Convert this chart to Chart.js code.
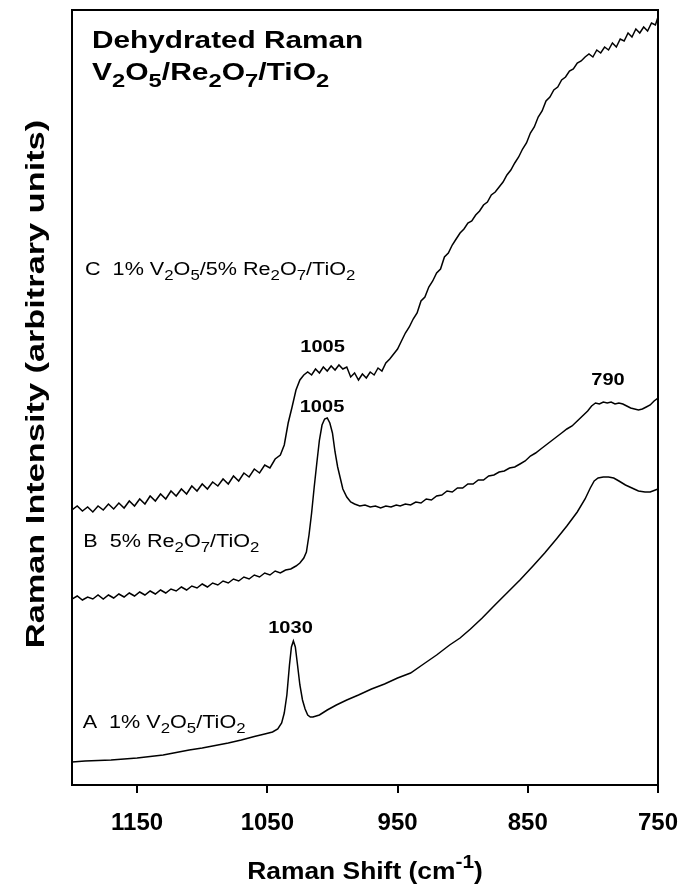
<!DOCTYPE html>
<html>
<head>
<meta charset="utf-8">
<script src="https://cdn.jsdelivr.net/npm/chart.js@4.4.0/dist/chart.umd.min.js"></script>
<style>
  html, body { margin: 0; padding: 0; background: #fff; }
  #wrap { width: 678px; height: 884px; }
</style>
</head>
<body>
<div id="wrap"><canvas id="ramanChart" width="678" height="884"></canvas></div>
<script>
// ----------------------------------------
// Spectra (arbitrary intensity units)
// ----------------------------------------

// A  1% V2O5/TiO2
const shiftA = [1200, 1190, 1180, 1170, 1160, 1150, 1140, 1130, 1120, 1110, 1100, 1090, 1080, 1070, 1060, 1052, 1046, 1042, 1039, 1037, 1035, 1033, 1031.5, 1030, 1028.5, 1027, 1025, 1023, 1021, 1019, 1017, 1015, 1010, 1004, 997, 989, 980, 970, 960, 950, 940, 930, 920, 910, 902, 894, 885, 876, 866, 856, 846, 837, 828, 820, 812, 806, 802, 799, 796, 792, 788, 784, 780, 775, 770, 765, 760, 756, 752, 750];
const intensityA = [23, 24, 24.5, 25, 26, 27, 28.5, 30, 32.5, 35, 37, 39.5, 42, 45, 48.5, 51, 53, 56, 62, 72, 90, 120, 138, 144, 138, 122, 100, 85, 76, 70, 68, 68, 70, 75, 80, 85, 90, 96, 101, 107, 112, 121, 130, 140, 147, 156, 167, 179, 192, 205, 219, 232, 246, 259, 273, 286, 297, 304, 307, 308, 308, 307, 304, 300, 297, 294, 293, 293, 295, 296];

// B  5% Re2O7/TiO2
const shiftB = [1200, 1196, 1192, 1188, 1184, 1180, 1176, 1172, 1168, 1164, 1160, 1156, 1152, 1148, 1144, 1140, 1136, 1132, 1128, 1124, 1120, 1116, 1112, 1108, 1104, 1100, 1096, 1092, 1088, 1084, 1080, 1076, 1072, 1068, 1064, 1060, 1056, 1052, 1048, 1044, 1040, 1036, 1032, 1028, 1025, 1022, 1020, 1018, 1016, 1014, 1012, 1010, 1008, 1006, 1004, 1002, 1000, 998, 996, 994, 992, 989, 986, 983, 979, 975, 971, 967, 963, 959, 955, 951, 948, 944, 940, 936, 932, 928, 924, 920, 916, 912, 908, 904, 900, 896, 892, 888, 884, 880, 876, 872, 868, 864, 860, 856, 852, 848, 844, 840, 836, 832, 828, 824, 820, 816, 812, 808, 804, 801, 798, 795, 792, 789, 786, 783, 780, 777, 774, 771, 768, 765, 762, 759, 756, 753, 750];
const intensityB = [186, 189, 185, 188, 186, 190, 186, 190, 187, 191, 188, 192, 189, 193, 190, 194, 191, 195, 192, 196, 194, 198, 195, 199, 197, 201, 198, 202, 200, 204, 202, 206, 204, 208, 206, 210, 208, 212, 210, 214, 212, 215, 216, 219, 222, 227, 233, 250, 272, 298, 322, 345, 360, 366, 367, 362, 352, 333, 318, 307, 296, 288, 283, 281, 279, 280, 278, 279, 277, 279, 278, 280, 279, 281, 280, 283, 282, 286, 285, 289, 290, 294, 293, 297, 297, 301, 301, 305, 305, 309, 310, 313, 314, 317, 318, 321, 324, 329, 332, 336, 340, 344, 348, 352, 356, 359, 364, 369, 374, 379, 382, 381, 383, 382, 383, 381, 382, 381, 379, 377, 376, 375, 376, 378, 380, 384, 387];

// C  1% V2O5/5% Re2O7/TiO2
const shiftC = [1200, 1196, 1192, 1188, 1184, 1180, 1176, 1172, 1168, 1164, 1160, 1156, 1152, 1148, 1144, 1140, 1136, 1132, 1128, 1124, 1120, 1116, 1112, 1108, 1104, 1100, 1096, 1092, 1088, 1084, 1080, 1076, 1072, 1068, 1064, 1060, 1056, 1052, 1048, 1044, 1040, 1037, 1034, 1031, 1028, 1025, 1022, 1019, 1016, 1013, 1010, 1007, 1004, 1001, 998, 995, 992, 989, 986, 983, 980, 977, 974, 971, 968, 965, 962, 959, 956, 953, 950, 947, 944, 941, 938, 935, 932, 929, 926, 923, 920, 917, 914, 911, 908, 905, 902, 899, 896, 893, 890, 887, 884, 881, 878, 875, 872, 869, 866, 863, 860, 857, 854, 851, 848, 845, 842, 839, 836, 833, 830, 827, 824, 821, 818, 815, 812, 809, 806, 803, 800, 797, 794, 791, 788, 785, 782, 779, 776, 773, 770, 767, 764, 761, 758, 755, 752, 750];
const intensityC = [275, 279, 274, 278, 273, 279, 275, 281, 276, 282, 277, 284, 279, 286, 281, 289, 284, 291, 286, 294, 289, 296, 291, 299, 294, 301, 296, 303, 299, 306, 301, 309, 304, 312, 308, 316, 312, 320, 317, 326, 330, 340, 362, 378, 395, 405, 410, 413, 410, 416, 412, 418, 414, 419, 415, 420, 416, 418, 408, 412, 405, 411, 407, 413, 410, 417, 414, 422, 426, 431, 436, 444, 452, 458, 466, 472, 484, 488, 498, 504, 512, 516, 528, 532, 540, 546, 552, 556, 562, 564, 570, 574, 580, 583, 590, 593, 598, 603, 610, 615, 622, 628, 636, 642, 652, 658, 668, 674, 684, 688, 695, 698, 705, 708, 714, 716, 722, 724, 728, 731, 728, 735, 732, 738, 735, 742, 738, 746, 744, 752, 748, 756, 752, 758, 754, 762, 760, 768];

// axis
const xTickValues = [1150, 1050, 950, 850, 750];
const xRange = [750, 1200];
const yRange = [0, 775];

// text placed inside the plot (position in data units)
const notes = [
    { text: 'Dehydrated Raman', x: 1184.6, y: 737, size: 24, weight: 'bold', align: 'left', stretch: 1.24 },
    { text: 'V_2O_5/Re_2O_7/TiO_2', x: 1184.6, y: 705, size: 24, weight: 'bold', align: 'left', stretch: 1.25 },
    { text: 'C  1% V_2O_5/5% Re_2O_7/TiO_2', x: 1190, y: 510, size: 18, weight: 'normal', align: 'left', stretch: 1.2 },
    { text: '1005', x: 1007.6, y: 433, size: 17, weight: 'bold', align: 'center', stretch: 1.18 },
    { text: '1005', x: 1008, y: 373, size: 17, weight: 'bold', align: 'center', stretch: 1.18 },
    { text: '790', x: 788.4, y: 400, size: 17, weight: 'bold', align: 'center', stretch: 1.18 },
    { text: 'B  5% Re_2O_7/TiO_2', x: 1191.3, y: 238, size: 18, weight: 'normal', align: 'left', stretch: 1.2 },
    { text: '1030', x: 1032.2, y: 152, size: 17, weight: 'bold', align: 'center', stretch: 1.18 },
    { text: 'A  1% V_2O_5/TiO_2', x: 1191.8, y: 57, size: 18, weight: 'normal', align: 'left', stretch: 1.2 }
];

const FONT = "'Liberation Sans', Arial, sans-serif";

function toPoints(xs, ys) {
    return xs.map((x, i) => ({ x: x, y: ys[i] }));
}

// split "V_2O_5" / "cm^{-1}" into runs
function parseRich(str) {
    const runs = [];
    let i = 0;
    while (i < str.length) {
        const c = str[i];
        if (c === '_') {
            runs.push({ t: str[i + 1], mode: 'sub' });
            i += 2;
        } else if (c === '^') {
            const end = str.indexOf('}', i);
            runs.push({ t: str.slice(i + 2, end), mode: 'sup' });
            i = end + 1;
        } else {
            const last = runs[runs.length - 1];
            if (last && last.mode === 'n') last.t += c;
            else runs.push({ t: c, mode: 'n' });
            i++;
        }
    }
    return runs;
}

function drawRich(ctx, str, x, y, size, weight, align, stretch) {
    const sx = stretch || 1;
    const runs = parseRich(str);
    const fontFor = r => weight + ' ' + (r.mode === 'n' ? size : Math.round(size * 0.8)) + 'px ' + FONT;
    let total = 0;
    runs.forEach(r => {
        ctx.font = fontFor(r);
        r.w = ctx.measureText(r.t).width;
        total += r.w;
    });
    const x0 = align === 'center' ? x - total * sx / 2 : x;
    ctx.save();
    ctx.translate(x0, y);
    ctx.scale(sx, 1);
    ctx.textBaseline = 'alphabetic';
    ctx.textAlign = 'left';
    let cx = 0;
    runs.forEach(r => {
        ctx.font = fontFor(r);
        let dy = 0;
        if (r.mode === 'sub') dy = size * 0.3;
        if (r.mode === 'sup') dy = -size * 0.45;
        ctx.fillText(r.t, cx, dy);
        cx += r.w;
    });
    ctx.restore();
}

// frame, axis titles and in-plot labels
const decorPlugin = {
    id: 'decor',
    afterDraw(chart) {
        const ctx = chart.ctx;
        const a = chart.chartArea;
        const xs = chart.scales.x;
        const ys = chart.scales.y;
        ctx.save();

        ctx.strokeStyle = '#000';
        ctx.lineWidth = 2;
        ctx.strokeRect(a.left, a.top, a.right - a.left, a.bottom - a.top);

        ctx.fillStyle = '#000';
        notes.forEach(n => {
            drawRich(ctx, n.text, xs.getPixelForValue(n.x), ys.getPixelForValue(n.y), n.size, n.weight, n.align, n.stretch);
        });

        // x title
        drawRich(ctx, 'Raman Shift (cm^{-1})', (a.left + a.right) / 2, 879, 24, 'bold', 'center', 1.1);

        // y title
        ctx.translate(44, 384);
        ctx.rotate(-Math.PI / 2);
        drawRich(ctx, 'Raman Intensity (arbitrary units)', 0, 0, 26, 'bold', 'center', 1.32);

        ctx.restore();
    }
};

const lineStyle = {
    borderColor: '#000',
    borderWidth: 1.5,
    pointRadius: 0,
    tension: 0,
    fill: false
};

new Chart(document.getElementById('ramanChart').getContext('2d'), {
    type: 'line',
    data: {
        datasets: [
            Object.assign({ label: 'A', data: toPoints(shiftA, intensityA) }, lineStyle),
            Object.assign({ label: 'B', data: toPoints(shiftB, intensityB) }, lineStyle),
            Object.assign({ label: 'C', data: toPoints(shiftC, intensityC) }, lineStyle)
        ]
    },
    options: {
        responsive: false,
        animation: false,
        devicePixelRatio: 1,
        layout: { padding: { top: 10, right: 20, left: 0, bottom: 0 } },
        plugins: {
            legend: { display: false },
            tooltip: { enabled: false }
        },
        scales: {
            x: {
                type: 'linear',
                reverse: true,
                min: xRange[0],
                max: xRange[1],
                afterBuildTicks: axis => {
                    axis.ticks = xTickValues.map(v => ({ value: v }));
                },
                afterFit: axis => {
                    axis.height = 99;
                    axis.paddingLeft = 0;
                    axis.paddingRight = 0;
                },
                ticks: {
                    color: '#000',
                    font: { family: FONT, size: 24, weight: 'bold' },
                    padding: 16,
                    maxRotation: 0,
                    callback: v => String(v)
                },
                grid: {
                    display: true,
                    drawOnChartArea: false,
                    drawTicks: true,
                    tickLength: 8,
                    color: '#000',
                    lineWidth: 2
                },
                border: { display: true, color: '#000', width: 2 }
            },
            y: {
                type: 'linear',
                min: yRange[0],
                max: yRange[1],
                afterFit: axis => { axis.width = 72; },
                ticks: { display: false },
                grid: { display: false },
                border: { display: true, color: '#000', width: 2 }
            }
        }
    },
    plugins: [decorPlugin]
});
</script>
</body>
</html>
